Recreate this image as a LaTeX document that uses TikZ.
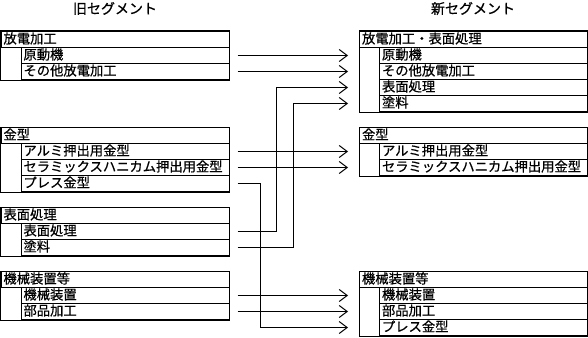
\documentclass[tikz,border=0pt]{standalone}
\usepackage{fontspec}
\setmainfont{Noto Sans CJK JP}[FakeBold=0.6]
\usetikzlibrary{arrows.meta}
\begin{document}
\begin{tikzpicture}[x=1pt,y=-1pt]
\tikzset{
 box/.style={draw, line width=1pt, anchor=north west, minimum height=16pt, inner ysep=0pt, inner xsep=2.5pt, text height=11pt, text depth=3pt, font=\fontsize{13.3pt}{16pt}\selectfont},
 ltitle/.style={box, text width=223pt},
 lsub/.style={box, text width=203pt},
 rtitle/.style={box, text width=223pt},
 rsub/.style={box, text width=203pt},
 outline/.style={draw, line width=1pt},
 conn/.style={line width=1pt, -{Straight Barb[length=8pt,width=12pt]}, shorten >=11pt},
 heading/.style={font=\fontsize{14pt}{16pt}\selectfont}
}
\useasboundingbox (0,0) rectangle (588,337);

\node[heading] (hL) at (115,8.5) {旧セグメント};
\node[heading] (hR) at (473,8.5) {新セグメント};

% left groups
\node[ltitle] (L1) at (0.5,31) {放電加工};
\node[lsub] (L1a) at (20.5,47) {原動機};
\node[lsub] (L1b) at (20.5,63) {その他放電加工};
\draw[outline] (L1.north west) rectangle (L1b.south east);

\node[ltitle] (L2) at (0.5,127) {金型};
\node[lsub] (L2a) at (20.5,143) {アルミ押出用金型};
\node[lsub] (L2b) at (20.5,159) {セラミックスハニカム押出用金型};
\node[lsub] (L2c) at (20.5,175) {プレス金型};
\draw[outline] (L2.north west) rectangle (L2c.south east);

\node[ltitle] (L3) at (0.5,207) {表面処理};
\node[lsub] (L3a) at (20.5,223) {表面処理};
\node[lsub] (L3b) at (20.5,239) {塗料};
\draw[outline] (L3.north west) rectangle (L3b.south east);

\node[ltitle] (L4) at (0.5,271) {機械装置等};
\node[lsub] (L4a) at (20.5,287) {機械装置};
\node[lsub] (L4b) at (20.5,303) {部品加工};
\draw[outline] (L4.north west) rectangle (L4b.south east);

% right groups
\node[rtitle] (R1) at (359,31) {放電加工・表面処理};
\node[rsub] (R1a) at (379,47) {原動機};
\node[rsub] (R1b) at (379,63) {その他放電加工};
\node[rsub] (R1c) at (379,79) {表面処理};
\node[rsub] (R1d) at (379,95) {塗料};
\draw[outline] (R1.north west) rectangle (R1d.south east);

\node[rtitle] (R2) at (359,127) {金型};
\node[rsub] (R2a) at (379,143) {アルミ押出用金型};
\node[rsub] (R2b) at (379,159) {セラミックスハニカム押出用金型};
\draw[outline] (R2.north west) rectangle (R2b.south east);

\node[rtitle] (R3) at (359,271) {機械装置等};
\node[rsub] (R3a) at (379,287) {機械装置};
\node[rsub] (R3b) at (379,303) {部品加工};
\node[rsub] (R3c) at (379,319) {プレス金型};
\draw[outline] (R3.north west) rectangle (R3c.south east);

% routing columns
\coordinate (vA) at (260.5,0);
\coordinate (vB) at (276,0);
\coordinate (vC) at (293,0);

% connectors
\draw[conn] ([xshift=8pt]L1a.east) -- (R1a.west -| R1.west);
\draw[conn] ([xshift=8pt]L1b.east) -- (R1b.west -| R1.west);
\draw[conn] ([xshift=8pt]L3a.east) -- (vB |- L3a.east) -- (vB |- R1c.west) -- (R1c.west -| R1.west);
\draw[conn] ([xshift=8pt]L3b.east) -- (vC |- L3b.east) -- (vC |- R1d.west) -- (R1d.west -| R1.west);
\draw[conn] ([xshift=8pt]L2a.east) -- (R2a.west -| R2.west);
\draw[conn] ([xshift=8pt]L2b.east) -- (R2b.west -| R2.west);
\draw[conn] ([xshift=8pt]L2c.east) -- (vA |- L2c.east) -- (vA |- R3c.west) -- (R3c.west -| R3.west);
\draw[conn] ([xshift=8pt]L4a.east) -- (R3a.west -| R3.west);
\draw[conn] ([xshift=8pt]L4b.east) -- (R3b.west -| R3.west);
\end{tikzpicture}
\end{document}
